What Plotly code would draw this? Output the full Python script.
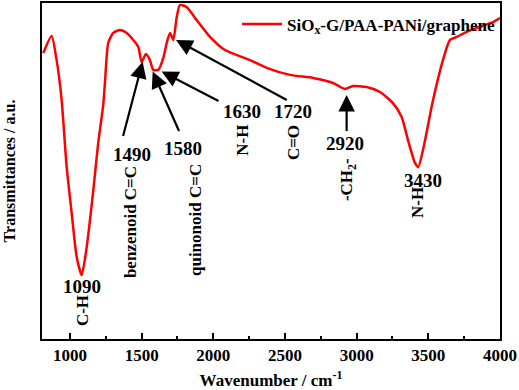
import plotly.graph_objects as go

# Data (wavenumber in cm^-1, transmittance in arbitrary units)
wavenumber = [814, 872, 907, 942, 977, 1012, 1047, 1082, 1117, 1163, 1197, 1232, 1244,
              1267, 1302, 1349, 1396, 1442, 1477, 1500, 1530, 1558, 1581, 1616, 1651,
              1675, 1698, 1721, 1745, 1767, 1814, 1884, 1977, 2081, 2256, 2372, 2535,
              2695, 2835, 2919, 2974, 3070, 3163, 3253, 3314, 3358, 3407, 3430, 3463,
              3533, 3602, 3651, 3698, 3768, 3860, 3951, 4000]
transmittance = [85.1, 90.2, 83.0, 71.1, 51.2, 37.5, 24.4, 19.0, 27.4, 44.3, 58.3, 69.6, 76.2,
                 88.1, 91.1, 92.0, 91.1, 89.0, 86.9, 82.4, 84.8, 83.0, 80.1, 80.1, 83.6,
                 88.1, 91.1, 89.0, 95.8, 99.4, 98.8, 94.9, 89.9, 86.0, 83.0, 80.7, 78.6,
                 77.7, 76.2, 74.4, 75.3, 75.0, 73.5, 70.2, 66.1, 59.2, 52.4, 51.2, 56.3,
                 71.1, 83.0, 89.0, 89.9, 91.4, 92.9, 94.3, 95.5]
series_name = "SiO<sub>x</sub>-G/PAA-PANi/graphene"

x_ticks = [1000, 1500, 2000, 2500, 3000, 3500, 4000]

# Arrow annotations: (tail_x, tail_y, head_x, head_y)
arrows = [
    (1367, 59.8, 1507, 82.5),
    (1767, 61.3, 1577, 79.6),
    (2047, 70.6, 1640, 79.6),
    (2523, 70.9, 1740, 89.0),
    (2930, 61.3, 2930, 72.6),
]
# Text labels: (text, x, y, angle, size)
labels = [
    ("1490", 1430, 54.8, 0, 19),
    ("benzenoid C=C", 1419, 34.8, -90, 17),
    ("1580", 1788, 56.8, 0, 19),
    ("quinonoid C=C", 1872, 35.4, -90, 17),
    ("1630", 2198, 67.6, 0, 19),
    ("N-H", 2198, 59.2, -90, 17),
    ("1720", 2556, 67.6, 0, 19),
    ("C=O", 2556, 58.3, -90, 17),
    ("2920", 2919, 58.3, 0, 19),
    ("-CH<sub>2</sub>-", 2940, 47.3, -90, 17),
    ("3430", 3463, 47.3, 0, 19),
    ("N-H", 3428, 40.5, -90, 17),
    ("1090", 1084, 15.5, 0, 19),
    ("C-H", 1084, 8.6, -90, 17),
]

FONT = "Liberation Serif, Times New Roman, serif"

fig = go.Figure()
fig.add_trace(go.Scatter(
    x=wavenumber, y=transmittance, mode="lines", name="<b>" + series_name + "</b>",
    line=dict(color="#ff0000", width=2.5, shape="spline", smoothing=0.6),
))

annotations = []
for tx, ty, hx, hy in arrows:
    annotations.append(dict(
        x=hx, y=hy, ax=tx, ay=ty, xref="x", yref="y", axref="x", ayref="y",
        showarrow=True, arrowhead=2, arrowsize=1.5, arrowwidth=2.2, arrowcolor="black",
        text=" ", font=dict(size=1),
    ))
for text, x, y, ang, sz in labels:
    annotations.append(dict(
        x=x, y=y, xref="x", yref="y", text="<b>" + text + "</b>", showarrow=False,
        textangle=ang, font=dict(family=FONT, size=sz, color="black"),
    ))

fig.update_layout(
    width=519, height=390,
    margin=dict(l=42, r=19, t=3, b=51, autoexpand=False),
    paper_bgcolor="white", plot_bgcolor="white",
    font=dict(family=FONT, color="black"),
    showlegend=True,
    legend=dict(
        x=1.0, y=0.99, xanchor="right", yanchor="top",
        bgcolor="rgba(0,0,0,0)", borderwidth=0,
        font=dict(family=FONT, size=17, color="black"),
        itemwidth=40,
    ),
    annotations=annotations,
)
fig.update_xaxes(
    range=[805, 4000], tickvals=x_ticks, ticktext=[f"<b>{t}</b>" for t in x_ticks],
    ticks="inside", ticklen=6, tickwidth=1.5, tickcolor="black",
    minor=dict(dtick=250, tick0=750, ticks="inside", ticklen=3, tickwidth=1.5, tickcolor="black"),
    showline=True, linecolor="black", linewidth=2, mirror=True,
    showgrid=False, zeroline=False, automargin=False,
    tickfont=dict(family=FONT, size=17, color="black"),
    title=dict(text="<b>Wavenumber / cm<sup>-1</sup></b>", font=dict(family=FONT, size=17), standoff=10),
)
fig.update_yaxes(
    range=[0, 100], showticklabels=False, ticks="",
    showline=True, linecolor="black", linewidth=2, mirror=True,
    showgrid=False, zeroline=False, automargin=False,
    title=dict(text="<b>Transmittances / a.u.</b>", font=dict(family=FONT, size=16), standoff=20),
)

fig.write_html("out.html", config={"displayModeBar": False},
               post_script="document.body.style.margin='0';document.body.style.overflow='hidden';")
